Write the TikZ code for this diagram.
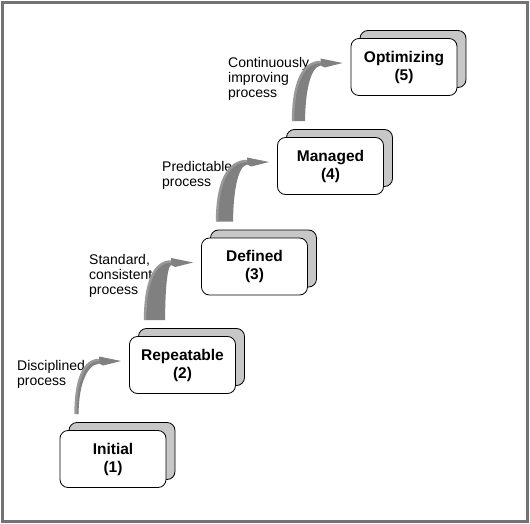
\documentclass[tikz,border=0pt]{standalone}
\usepackage{fontspec}
\setmainfont{Liberation Sans}
\usetikzlibrary{calc,shadows}

\newcommand{\riser}[3]{%
    \fill[riser] let \p1=(#1), \p2=(#3), \p3=($(#3)+(-22,0)$) in
        (\x1,\y1) .. controls (\x1,{\y1+0.65*(\y2-\y1)}) and ({\x1+0.35*(\x3-\x1)},{\y2+1pt}) .. (\x3,{\y2+1pt})
        -- (\x3,{\y2+4.5pt}) -- (\x2,\y2) -- ({\x3+4pt},{\y2-4.5pt}) -- (\x3,{\y2-2.5pt})
        .. controls ({\x1+#2+0.3*(\x3-\x1-#2)},{\y2-4pt}) and ({\x1+#2},{\y1+0.45*(\y2-\y1)}) .. ({\x1+#2},\y1) -- cycle;
    \draw[riser edge] let \p1=(#1), \p2=(#3), \p3=($(#3)+(-22,0)$) in
        (\x1,\y1) .. controls (\x1,{\y1+0.65*(\y2-\y1)}) and ({\x1+0.35*(\x3-\x1)},{\y2+1pt}) .. (\x3,{\y2+1pt});
}

\begin{document}
\begin{tikzpicture}[x=1pt,y=-1pt,
        stage/.style={draw,fill=white,line width=0.8pt,rounded corners=8pt,
            minimum width=106pt,minimum height=57pt,inner sep=0pt,align=center,
            font=\fontsize{15.5}{18}\selectfont\bfseries,
            copy shadow={shadow xshift=9pt,shadow yshift=8pt,fill=black!22,draw=black,line width=0.8pt}},
        note/.style={anchor=north west,inner sep=0pt,align=left,
            font=\fontsize{14}{15}\selectfont},
        riser/.style={fill=black!50},
        riser edge/.style={draw=black!40,line width=2.5pt}]
    \useasboundingbox (0,0) rectangle (530,524);
    \draw[black!55,line width=3pt] (2.5,2.5) rectangle (527.5,521.5);

    \node[stage] (init) at (113,459) {Initial\\(1)};
    \node[stage] (rep) at (182.5,365) {Repeatable\\(2)};
    \node[stage] (def) at (254.5,266.5) {Defined\\(3)};
    \node[stage] (man) at (330.5,166) {Managed\\(4)};
    \node[stage] (opt) at (404,67) {Optimizing\\(5)};

    \node[note] (disc) at (17,360) {Disciplined\\process};
    \node[note] (std) at (89,254) {Standard,\\consistent\\process};
    \node[note] (pred) at (162,161) {Predictable\\process};
    \node[note] (cont) at (228,57) {Continuously\\improving\\process};

    \foreach \a/\b/\w in {init/rep/3pt,rep/def/20pt,def/man/16pt,man/opt/12pt}{
        \coordinate (base) at ($(\a.north west)+(16,-16)$);
        \coordinate (tip) at ($(\b.west)+(-8,-4)$);
        \riser{base}{\w}{tip}
    }
\end{tikzpicture}
\end{document}
